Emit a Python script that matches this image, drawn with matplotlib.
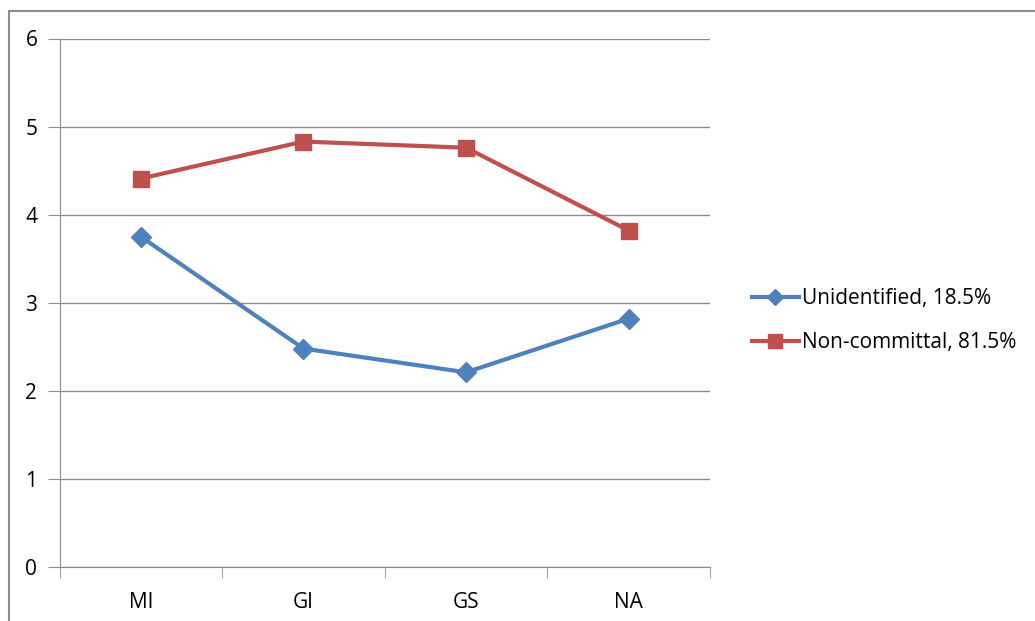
import matplotlib
matplotlib.use("Agg")
import matplotlib.pyplot as plt
from matplotlib.patches import Rectangle

categories = ["MI", "GI", "GS", "NA"]
unidentified = [3.75, 2.48, 2.21, 2.82]
noncommittal = [4.41, 4.83, 4.76, 3.82]
series_labels = ["Unidentified, 18.5%", "Non-committal, 81.5%"]
y_ticks = [0, 1, 2, 3, 4, 5, 6]

plt.rcParams["font.family"] = ["Open Sans", "DejaVu Sans"]
FS = 15

fig = plt.figure(figsize=(10.35, 6.21), dpi=100)
fig.patches.append(Rectangle((9 / 1035, -0.1), 1.2, (621 - 11) / 621 + 0.1,
                             transform=fig.transFigure, fill=False,
                             edgecolor="#8c8c8c", linewidth=1.5))

ax = fig.add_axes([59.5 / 1035, (621 - 567) / 621, (710 - 59.5) / 1035, (567 - 38.5) / 621])
x = list(range(len(categories)))
ax.plot(x, unidentified, color="#4F81BD", linewidth=3, marker="D", markersize=10,
        label=series_labels[0])
ax.plot(x, noncommittal, color="#C0504D", linewidth=3, marker="s", markersize=12,
        label=series_labels[1])

ax.set_xlim(-0.5, len(categories) - 0.5)
ax.set_ylim(0, 6)
ax.set_yticks(y_ticks)
ax.set_xticks(x)
ax.set_xticklabels(categories)
ax.set_xticks([i - 0.5 for i in range(len(categories) + 1)], minor=True)
ax.grid(axis="y", color="#8c8c8c", linewidth=1)
ax.set_axisbelow(True)
for s in ["top", "right"]:
    ax.spines[s].set_visible(False)
for s in ["left", "bottom"]:
    ax.spines[s].set_color("#8c8c8c")
ax.tick_params(axis="y", length=9, color="#8c8c8c", labelsize=FS, pad=7)
ax.tick_params(axis="x", which="major", length=0, labelsize=FS, pad=18)
ax.tick_params(axis="x", which="minor", length=8, color="#8c8c8c")

ax.legend(loc="center left", bbox_to_anchor=(1.035, 0.466), frameon=False,
          fontsize=FS, handlelength=2.3, handletextpad=0.1, labelspacing=1.1,
          markerscale=0.8)

fig.savefig("out.png", dpi=100)
